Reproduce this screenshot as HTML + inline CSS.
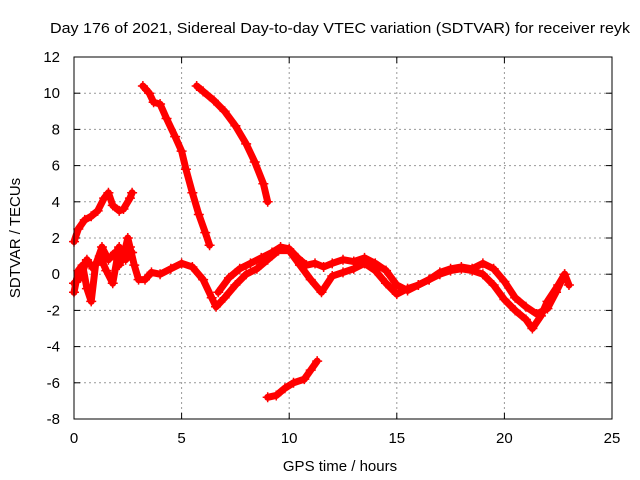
<!DOCTYPE html>
<html><head><meta charset="utf-8"><style>
body{margin:0;background:#fff}
svg{display:block;font-family:"Liberation Sans",sans-serif;font-size:15px}
</style></head><body>
<svg id="chart" width="640" height="480">
<rect width="640" height="480" fill="#fff"/>
<text x="50" y="33" textLength="580" lengthAdjust="spacingAndGlyphs">Day 176 of 2021, Sidereal Day-to-day VTEC variation (SDTVAR) for receiver reyk</text>
<g id="grid"></g>
<g id="ticks"></g>
<g id="series"></g>
<rect x="74" y="57" width="538" height="362" fill="none" stroke="#000" stroke-width="1"/>
<text x="340" y="471" text-anchor="middle">GPS time / hours</text>
<text transform="translate(20,238) rotate(-90)" text-anchor="middle">SDTVAR / TECUs</text>
</svg>
<script>
const xTicks=[0,5,10,15,20,25];
const yTicks=[-8,-6,-4,-2,0,2,4,6,8,10,12];
const traceAx=[3.2,3.5,3.7,4.0,4.3,4.7,5.0,5.2,5.5,5.8,6.1,6.3];
const traceAy=[10.4,10.0,9.5,9.4,8.6,7.6,6.8,5.8,4.5,3.3,2.3,1.6];
const traceBx=[5.7,6.0,6.5,7.0,7.5,8.0,8.4,8.8,9.0];
const traceBy=[10.4,10.1,9.6,9.0,8.2,7.2,6.2,5.0,4.0];
const traceCx=[9.0,9.4,9.8,10.2,10.7,11.0,11.3];
const traceCy=[-6.8,-6.7,-6.3,-6.0,-5.8,-5.3,-4.8];
const traceDx=[0,0.2,0.5,0.8,1.1,1.4,1.6,1.8,2.1,2.3,2.6,2.7];
const traceDy=[1.8,2.5,3.0,3.2,3.5,4.2,4.5,3.8,3.5,3.6,4.2,4.5];
const traceEx=[0,0.2,0.4,0.6,0.8,1.0,1.3,1.6,1.9,2.1,2.3,2.5,2.6,2.8,3.0,3.3,3.6,4.0,4.5,5.0,5.5,6.0,6.4,6.6,7.0,7.5,8.0,8.5,9.0,9.5,10.0,10.5,11.0,11.5,12.0,12.5,13.0,13.5,14.0,14.5,15.0,15.5,16.0,16.5,17.0,17.5,18.0,18.5,19.0,19.5,20.0,20.5,21.0,21.3,21.7,22.0,22.5,22.8,23.0];
const traceEy=[-1.0,0.2,0.5,-0.8,-1.5,0.5,1.5,0.8,1.2,0.5,1.0,2.0,1.5,0.5,-0.3,-0.3,0.1,0.0,0.3,0.6,0.4,-0.3,-1.3,-1.8,-1.3,-0.6,0.0,0.3,0.8,1.3,1.3,0.5,-0.3,-1.0,-0.1,0.1,0.3,0.6,0.2,-0.5,-1.1,-0.8,-0.6,-0.3,0.0,0.2,0.3,0.2,0.0,-0.6,-1.4,-2.0,-2.5,-3.0,-2.3,-1.5,-0.6,0.0,-0.6];
const traceGx=[0,0.3,0.6,0.9,1.2,1.5,1.8,2.1,2.4,2.7];
const traceGy=[-0.5,-0.2,0.8,0.3,1.0,0.2,-0.5,1.5,0.8,1.2];
const traceFx=[6.7,7.2,7.7,8.2,8.7,9.2,9.6,10.0,10.4,10.8,11.2,11.6,12.0,12.5,13.0,13.5,14.0,14.5,15.0,15.5,16.0,16.5,17.0,17.5,18.0,18.5,19.0,19.5,20.0,20.5,21.0,21.5,22.0,22.4,22.8];
const traceFy=[-1.0,-0.2,0.3,0.6,0.9,1.2,1.5,1.4,0.9,0.5,0.6,0.4,0.6,0.8,0.7,0.9,0.6,0.2,-0.6,-0.9,-0.6,-0.3,0.1,0.3,0.4,0.3,0.6,0.3,-0.4,-1.3,-1.8,-2.2,-1.9,-1.0,0.0];
const traces=[[traceAx,traceAy],[traceBx,traceBy],[traceCx,traceCy],[traceDx,traceDy],[traceEx,traceEy],[traceFx,traceFy],[traceGx,traceGy]];
const X=v=>74+v*538/25;
const Y=v=>57+(12-v)*362/20;
const NS="http://www.w3.org/2000/svg";
const grid=document.getElementById('grid'),ticks=document.getElementById('ticks'),ser=document.getElementById('series');
function mk(tag,attrs,parent){const e=document.createElementNS(NS,tag);for(const k in attrs)e.setAttribute(k,attrs[k]);parent.appendChild(e);return e;}
xTicks.forEach(t=>{
  const x=X(t);
  if(t>0&&t<25){const g=mk('line',{x1:x,x2:x,y1:57,y2:419,stroke:'#999','stroke-dasharray':'2,3'},grid);
  
  }
  mk('line',{x1:x,x2:x,y1:419,y2:413,stroke:'#000'},ticks);
  mk('line',{x1:x,x2:x,y1:57,y2:63,stroke:'#000'},ticks);
  const l=mk('text',{x:x,y:443,'text-anchor':'middle'},ticks);l.textContent=t;
  
  
});
yTicks.forEach(t=>{
  const y=Y(t);
  if(t>-8&&t<12){const g=mk('line',{x1:74,x2:612,y1:y,y2:y,stroke:'#999','stroke-dasharray':'2,3'},grid);
  
  }
  mk('line',{x1:74,x2:80,y1:y,y2:y,stroke:'#000'},ticks);
  mk('line',{x1:606,x2:612,y1:y,y2:y,stroke:'#000'},ticks);
  const l=mk('text',{x:60,y:y+5,'text-anchor':'end'},ticks);l.textContent=t;
  
  
});
traces.forEach(([xs,ys],i)=>{
  const pts=xs.map((x,j)=>X(x)+','+Y(ys[j])).join(' ');
  const pl=mk('polyline',{points:pts,fill:'none',stroke:'#f00','stroke-width':7,'stroke-linejoin':'round','stroke-linecap':'round'},ser);
  
  
  xs.forEach((x,j)=>{
    const px=X(x),py=Y(ys[j]);
    const p=mk('path',{d:`M${px-5},${py}h10M${px},${py-5}v10`,stroke:'#f00','stroke-width':1.5},ser);
    
    
  });
});
</script>
</body></html>
